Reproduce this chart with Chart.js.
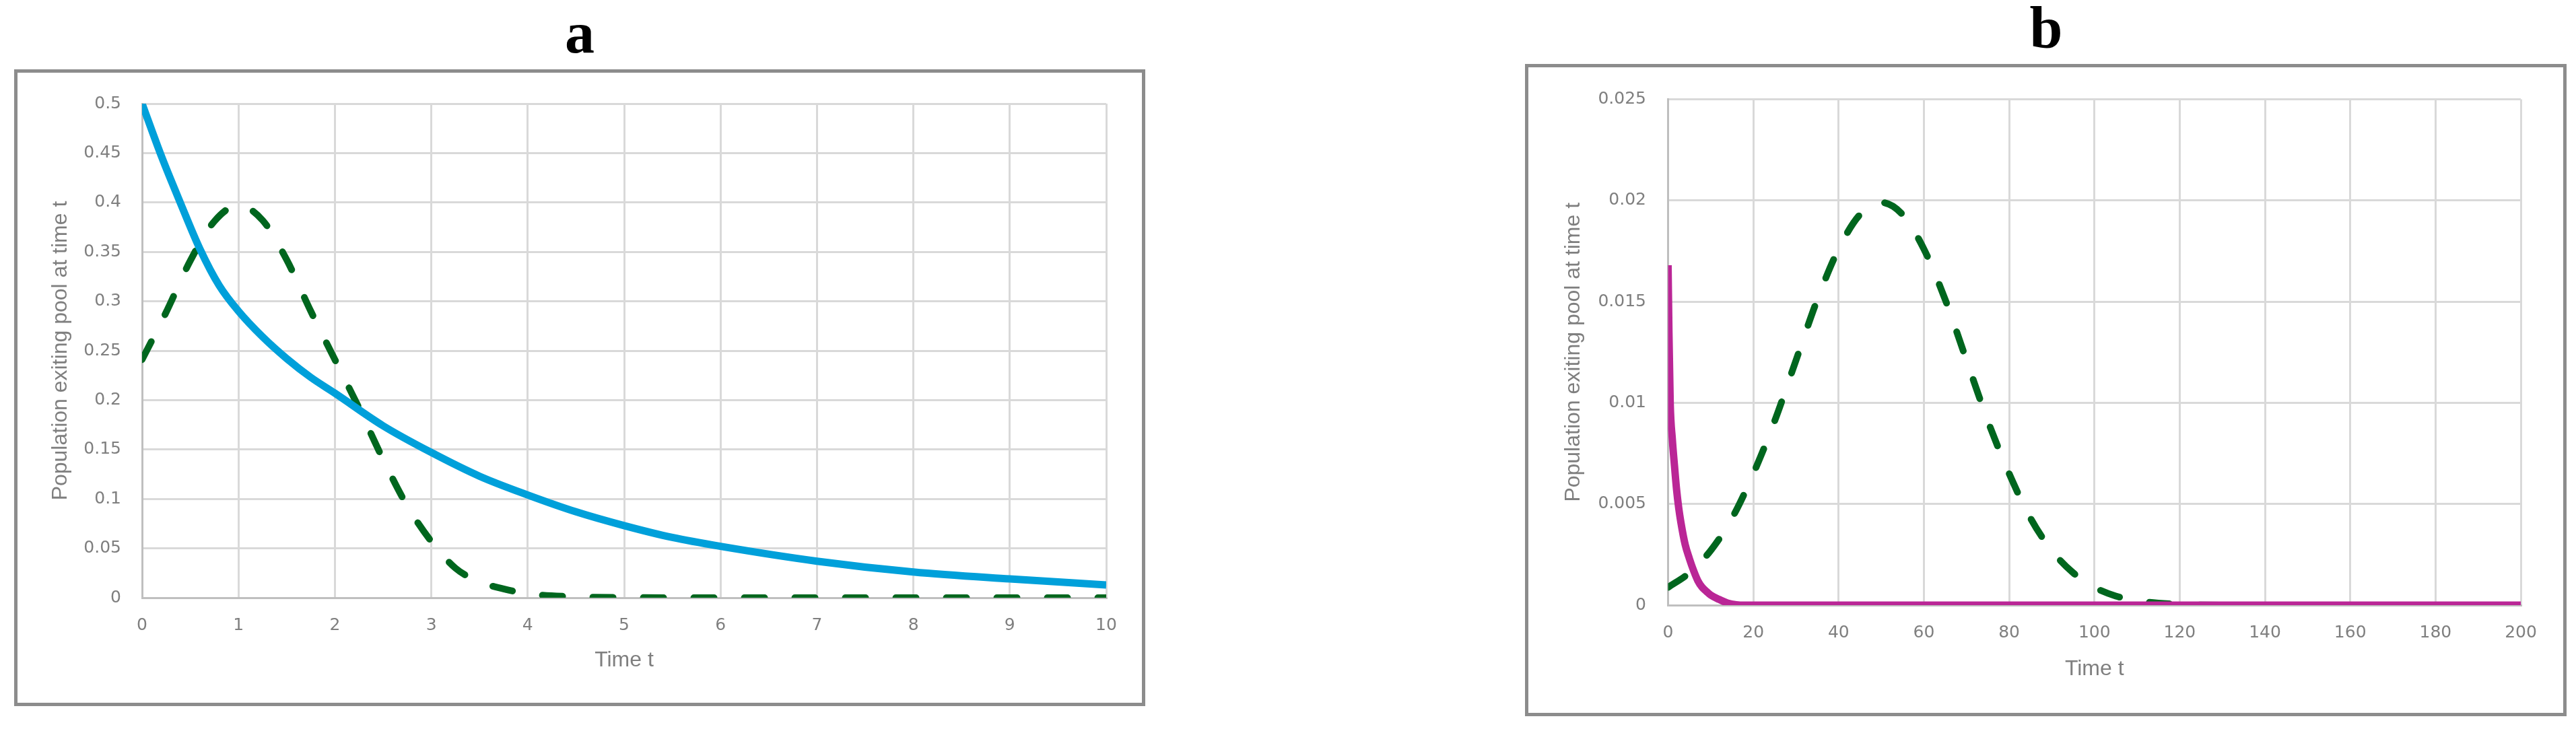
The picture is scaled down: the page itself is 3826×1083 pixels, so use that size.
<!DOCTYPE html>
<html>
<head>
<meta charset="utf-8">
<script src="https://cdn.jsdelivr.net/npm/chart.js@4.4.1/dist/chart.umd.min.js"></script>
<style>
  html, body { margin: 0; padding: 0; background: #fff; }
  body { width: 3826px; height: 1083px; position: relative; overflow: hidden; }
  .frame { position: absolute; border: 5px solid #8c8c8c; background: #fff; }
  .frame canvas { position: absolute; left: 0; top: 0; }
  .label { position: absolute; width: 200px; text-align: center; color: #000;
           font: bold 88px "Liberation Serif", "Times New Roman", serif; line-height: 88px; }
</style>
</head>
<body>
<div class="label" style="left:761px; top:5px;">a</div>
<div class="label" style="left:2939px; top:-2px;">b</div>
<div class="frame" style="left:21px; top:103px; width:1670px; height:936px;">
  <canvas id="chartA" width="1670" height="936"></canvas>
</div>
<div class="frame" style="left:2265px; top:95px; width:1537px; height:959px;">
  <canvas id="chartB" width="1537" height="959"></canvas>
</div>
<script>
// panel a - solid blue curve
const timeA_blue = [0, 0.2, 0.4, 0.6, 0.8, 1, 1.25, 1.5, 1.75, 2, 2.5, 3, 3.5, 4, 4.5, 5, 5.5, 6, 7, 8, 9, 10];
const exitA_blue = [0.5, 0.447, 0.399, 0.353, 0.316, 0.29, 0.264, 0.242, 0.223, 0.207, 0.174, 0.147, 0.123, 0.104, 0.087, 0.073, 0.061, 0.052, 0.037, 0.026, 0.019, 0.013];

// panel a - dashed green curve
const timeA_green = [0, 0.25, 0.5, 0.75, 1, 1.25, 1.5, 1.75, 2, 2.25, 2.5, 2.75, 3, 3.25, 3.5, 3.75, 4, 4.5, 5, 6, 7, 8, 9, 10];
const exitA_green = [0.241, 0.289, 0.341, 0.381, 0.397, 0.382, 0.342, 0.29, 0.241, 0.192, 0.14, 0.093, 0.057, 0.03, 0.016, 0.009, 0.004, 0.001, 0.0003, 0, 0, 0, 0, 0];

// panel b - dashed green curve
const timeB_green = [0, 5, 10, 15, 20, 25, 30, 35, 40, 45, 50, 55, 60, 65, 70, 75, 80, 85, 90, 95, 100, 105, 110, 115, 120, 130, 140, 150, 160, 170, 180, 190, 200];
const exitB_green = [0.00088, 0.0016, 0.0027, 0.0043, 0.0065, 0.0091, 0.0121, 0.0151, 0.0176, 0.0193, 0.0199, 0.0193, 0.0176, 0.0151, 0.0121, 0.0091, 0.0065, 0.0043, 0.0027, 0.0016, 0.00088, 0.00045, 0.00022, 0.0001, 0.00004, 0, 0, 0, 0, 0, 0, 0, 0];

// panel b - solid magenta curve
const timeB_pink = [0, 0.2, 0.5, 1, 1.5, 2, 2.5, 3, 4, 5, 6, 7, 8, 9, 10, 12, 14, 16, 18, 200];
const exitB_pink = [0.0168, 0.0135, 0.01, 0.0082, 0.0069, 0.0057, 0.0048, 0.0041, 0.003, 0.0023, 0.0017, 0.0012, 0.00088, 0.00068, 0.0005, 0.00028, 0.0001, 0.00002, 0, 0];

// tick labels
const xTicksA = [0, 1, 2, 3, 4, 5, 6, 7, 8, 9, 10];
const yTicksA = [0, 0.05, 0.1, 0.15, 0.2, 0.25, 0.3, 0.35, 0.4, 0.45, 0.5];
const xTicksB = [0, 20, 40, 60, 80, 100, 120, 140, 160, 180, 200];
const yTicksB = [0, 0.005, 0.01, 0.015, 0.02, 0.025];

const axisTitleX = 'Time t';
const axisTitleY = 'Population exiting pool at time t';

function pts(xs, ys) {
  return xs.map((x, i) => ({ x: x, y: ys[i] }));
}

function drawPanel(id, sets, xTicks, yTicks, g) {
  return new Chart(document.getElementById(id), {
    type: 'line',
    data: { datasets: sets },
    options: {
      responsive: false,
      animation: false,
      devicePixelRatio: 1,
      layout: { padding: { left: 0, top: g.top, right: g.right, bottom: 0 } },
      plugins: { legend: { display: false }, tooltip: { enabled: false } },
      elements: { point: { radius: 0 }, line: { borderJoinStyle: 'round' } },
      scales: {
        x: {
          type: 'linear',
          min: xTicks[0],
          max: xTicks[xTicks.length - 1],
          afterBuildTicks: s => { s.ticks = xTicks.map(v => ({ value: v })); },
          afterFit: s => { s.height = g.xh; },
          grid: { color: '#d9d9d9', lineWidth: 3, drawTicks: false },
          border: { color: '#bfbfbf', width: 3 },
          ticks: { color: '#7f7f7f', font: { family: 'DejaVu Sans', size: 25 }, padding: g.xpad, maxRotation: 0, autoSkip: false },
          title: { display: true, text: axisTitleX, color: '#7f7f7f', font: { family: 'Liberation Sans', size: 32 }, padding: { top: 0, bottom: g.xtpad } }
        },
        y: {
          min: yTicks[0],
          max: yTicks[yTicks.length - 1],
          afterBuildTicks: s => { s.ticks = yTicks.map(v => ({ value: v })); },
          afterFit: s => { s.width = g.yw; },
          grid: { color: '#d9d9d9', lineWidth: 3, drawTicks: false },
          border: { color: '#bfbfbf', width: 3 },
          ticks: { color: '#7f7f7f', font: { family: 'DejaVu Sans', size: 25 }, padding: g.ypad, autoSkip: false,
                   callback: v => String(v) },
          title: { display: true, text: axisTitleY, color: '#7f7f7f', font: { family: 'Liberation Sans', size: 32 }, padding: { top: g.ytpad, bottom: 0 } }
        }
      }
    }
  });
}

drawPanel('chartA', [
  { data: pts(timeA_blue, exitA_blue), borderColor: '#00a0da', borderWidth: 11, cubicInterpolationMode: 'monotone' },
  { data: pts(timeA_green, exitA_green), borderColor: '#00661e', borderWidth: 10, borderDash: [30, 45], borderCapStyle: 'round', cubicInterpolationMode: 'monotone' }
], xTicksA, yTicksA, { top: 37.5, right: 53, xh: 156, yw: 185, xpad: 26, xtpad: 43.8, ypad: 31, ytpad: 44.8 });

drawPanel('chartB', [
  { data: pts(timeB_pink, exitB_pink), borderColor: '#ba2696', borderWidth: 11, cubicInterpolationMode: 'monotone' },
  { data: pts(timeB_green, exitB_green), borderColor: '#00661e', borderWidth: 10, borderDash: [30, 45], borderCapStyle: 'round', cubicInterpolationMode: 'monotone' }
], xTicksB, yTicksB, { top: 37.5, right: 63, xh: 160, yw: 207.5, xpad: 26.5, xtpad: 45.8, ypad: 32.5, ytpad: 48.3 });
</script>
</body>
</html>
